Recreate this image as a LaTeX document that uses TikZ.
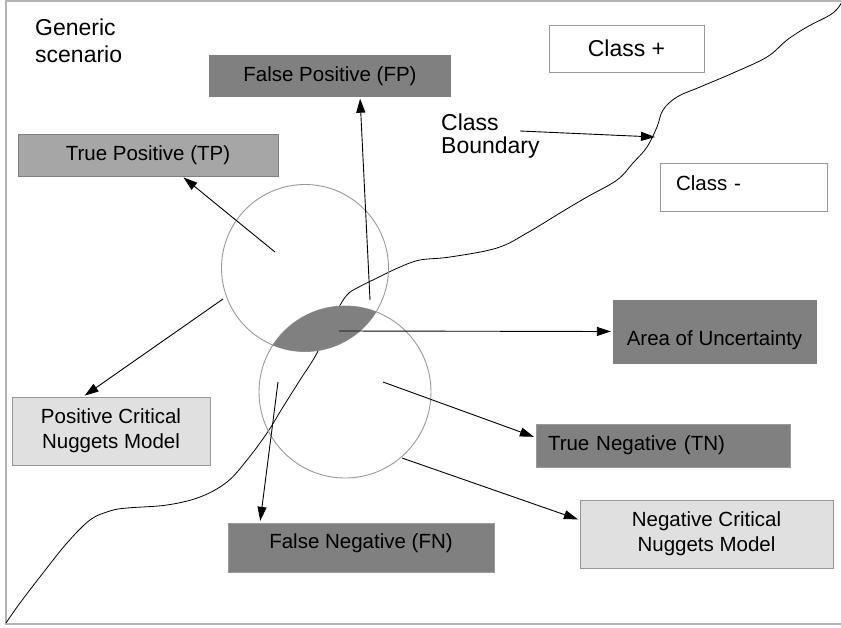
\documentclass[tikz,border=0pt]{standalone}
\usepackage{fontspec}
\setmainfont{Liberation Sans}
\usetikzlibrary{arrows.meta}
\definecolor{boxdark}{HTML}{808080}
\definecolor{boxmid}{HTML}{A6A6A6}
\definecolor{boxlight}{HTML}{E0E0E0}
\definecolor{rim}{HTML}{989898}
\definecolor{frameline}{HTML}{B4B4B4}
\tikzset{
  lbl/.style={font=\fontsize{23}{26}\selectfont, align=left, inner sep=0pt},
  box/.style={draw=rim, font=\fontsize{20.5}{25}\selectfont, align=center, inner sep=0pt},
  pointer/.style={-{Triangle[length=14pt,width=9pt]}, line width=0.9pt, shorten >=2pt},
}
\begin{document}
\begin{tikzpicture}[x=1pt,y=-1pt]
\useasboundingbox (0,0) rectangle (841,627);
%frame
\draw[frameline,line width=2pt] (845,1) -- (6,1) -- (6,624) -- (845,624);
%class boundary
\draw[line width=0.8pt] plot[smooth,tension=0.6] coordinates {(6,623) (20,603) (43,573) (67,543) (90,520) (110,511) (127,508) (167,505) (200,497) (227,482) (247,460) (267,433) (283,407) (300,380) (317,353) (337,311) (347,295) (357,288) (377,278) (400,267) (420,260) (450,257) (497,248) (527,233) (560,213) (587,197) (617,180) (633,163) (647,147) (657,127) (663,110) (677,97) (700,87) (733,73) (767,57) (787,40) (807,27) (833,13) (843,0)};
%circles
\draw[rim,line width=0.9pt] (305,268) circle (83.5);
\draw[rim,line width=0.9pt] (345,392) circle (86);
\begin{scope}
\clip (305,268) circle (83.5);
\fill[boxdark] (345,392) circle (86);
\end{scope}
%text
\node[lbl,anchor=base west,font=\fontsize{23}{27}\selectfont] (gen) at (35,62) {Generic\\scenario};
\node[lbl,anchor=base west,font=\fontsize{23}{23}\selectfont] (cb) at (441,153) {Class\\Boundary};
%boxes
\node[box,fill=boxdark,draw=boxdark,minimum width=241,minimum height=41] (fp) at (330,76) {False Positive (FP)};
\node[box,fill=boxmid,draw=boxdark,minimum width=260,minimum height=42] (tp) at (148,155) {True Positive (TP)};
\node[box,fill=white,minimum width=155,minimum height=47,font=\fontsize{23}{26}\selectfont] (cplus) at (626.5,48.5) {Class +};
\node[box,fill=white,minimum height=48,text width=135,inner xsep=16,align=left,text height=15,text depth=9] (cminus) at (743.5,187) {Class -};
\node[box,fill=boxdark,draw=boxdark,minimum width=203,minimum height=63,text height=28,text depth=0] (area) at (714.5,331.5) {Area of Uncertainty};
\node[box,fill=boxdark,draw=boxdark!80,minimum height=43,text width=230,inner xsep=12,align=left] (tn) at (663,445.5) {True Negative (TN)};
\node[box,fill=boxlight,minimum width=253,minimum height=68] (ncn) at (706.5,534) {Negative Critical\\Nuggets Model};
\node[box,fill=boxlight,minimum width=198,minimum height=68] (pcn) at (111,431) {Positive Critical\\Nuggets Model};
\node[box,fill=boxdark,draw=boxdark!80,minimum width=266,minimum height=49,text height=8,text depth=7] (fn) at (361,547.5) {False Negative (FN)};
%arrows
\coordinate (tpfrom) at (275,252);
\coordinate (fpfrom) at (370,300);
\coordinate (pcnfrom) at (223,299);
\coordinate (areafrom) at (339,331);
\coordinate (tnfrom) at (383,382);
\coordinate (ncnfrom) at (402,458);
\coordinate (fnfrom) at (278,382);
\coordinate (cbfrom) at (520,131);
\coordinate (cbto) at (655,137);
\draw[pointer] (tpfrom) -- ([xshift=34pt]tp.south);
\draw[pointer] (fpfrom) -- ([xshift=30pt]fp.south);
\draw[pointer] (pcnfrom) -- ([xshift=-28pt]pcn.north);
\draw[pointer] (areafrom) -- (area.west);
\draw[pointer] (tnfrom) -- ([yshift=8pt]tn.west);
\draw[pointer] (ncnfrom) -- ([yshift=14pt]ncn.west);
\draw[pointer] (fnfrom) -- ([xshift=-101pt]fn.north);
\draw[pointer,shorten >=0pt] (cbfrom) -- (cbto);
\end{tikzpicture}
\end{document}
